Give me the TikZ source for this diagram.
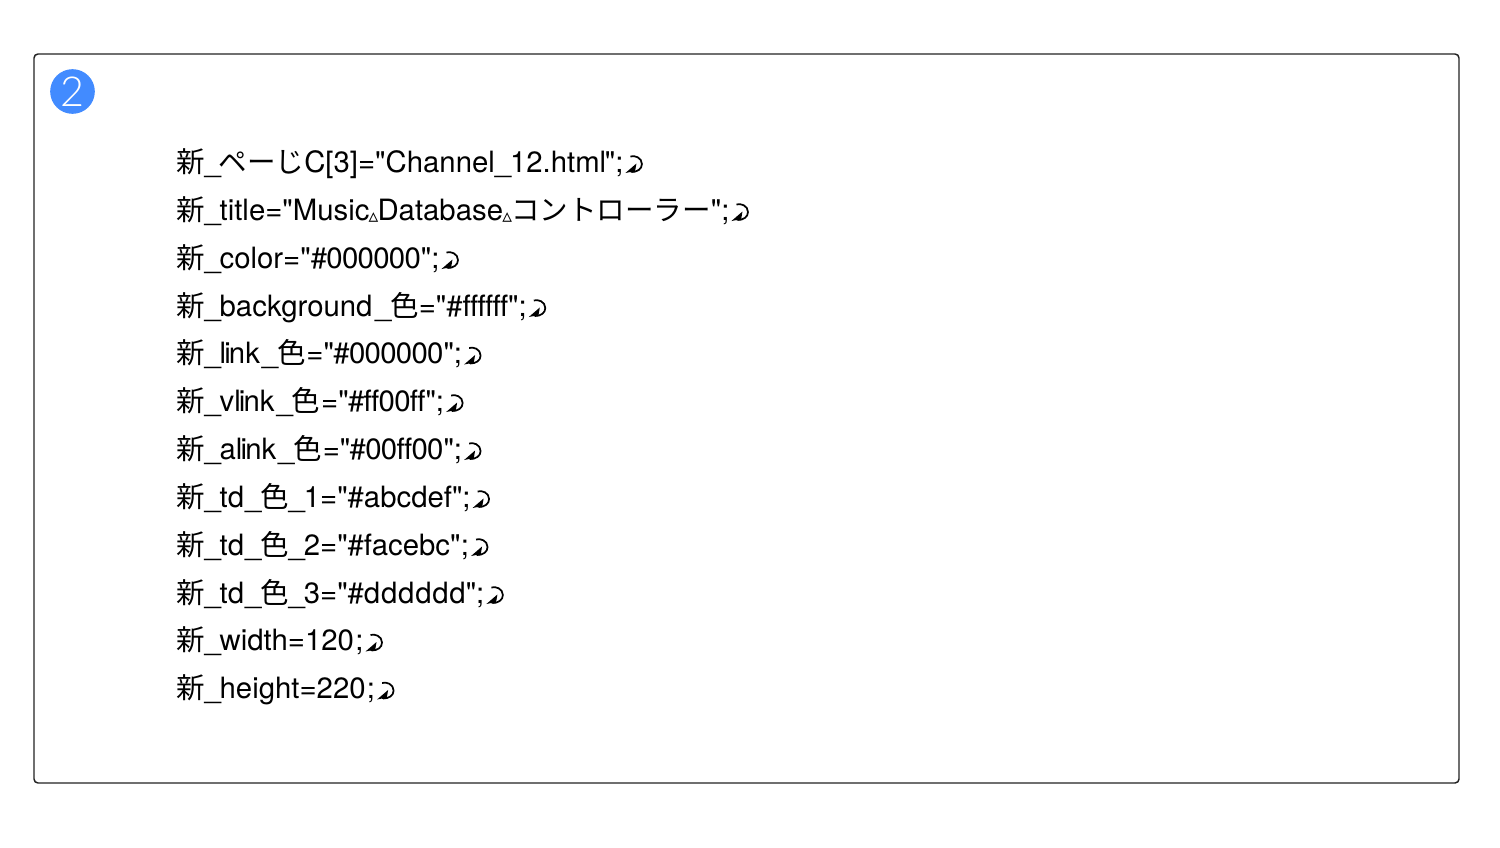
\documentclass[tikz,border=0pt]{standalone}
\usepackage{fontspec}
\newfontfamily\latf{TeX Gyre Heros}
\newfontfamily\cjkf{Noto Sans CJK JP}
\newfontfamily\symf{DejaVu Sans}
\newfontfamily\numf{Lato Light}
\newcommand{\jp}[1]{{\cjkf\fontsize{21.4pt}{24pt}\selectfont #1}}
\newcommand{\spc}{{\symf\bfseries\fontsize{14.5pt}{10pt}\selectfont\kern-0.6pt\raisebox{-1.7pt}{▵}\kern-0.6pt}}
\newcommand{\us}{\_\kern-0.9pt}
\newcommand{\tk}{\kern-1.4pt}
\newcommand{\wk}{\kern0.6pt}
\newcommand{\nk}{\kern-0.5pt}
\definecolor{framec}{HTML}{222222}
\definecolor{badge}{HTML}{428BFF}
\tikzset{
  x=0.75pt,y=-0.75pt,
  frame/.style={draw=framec,line width=1.1pt,rounded corners=3pt},
  codeline/.style={anchor=base west,inner sep=0pt,outer sep=0pt,font=\latf\fontsize{22pt}{24pt}\selectfont},
  badgec/.style={circle,fill=badge,minimum size=33.5pt,inner sep=0pt,text=white,font=\fontsize{31pt}{31pt}\numf},
  retmark/.pic={
    \fill[black] (0,0) -- (11,-9.5) -- (9.5,-0.6) -- (4,-0.8) -- cycle;
    \draw[black,line width=1.3pt] (5,-16.5) .. controls (9,-18) and (16.5,-15.5) .. (16.5,-9)
      .. controls (16.5,-4) and (12,-1) .. (6,-1);
  }
}
\begin{document}
\begin{tikzpicture}
\useasboundingbox (0,0) rectangle (1500,847);
\draw[frame] (34,54) rectangle (1459,783);
\node[badgec] (b) at (72.5,91.5) {2};
\node[codeline] (l1) at (176,172) {\jp{新}\us\kern-0.7pt\jp{ペーじ}C[3]="Channel\us 12.html\kern-1pt";};
\node[codeline] (l2) at (176,220) {\jp{新}\us title="Music\spc Database\spc\jp{コントローラー}";};
\node[codeline] (l3) at (176,268) {\jp{新}\us color="\#\nk 0\nk 0\nk 0\nk 0\nk 0\nk 0";};
\node[codeline] (l4) at (176,316) {\jp{新}\us background\kern2pt\us\jp{色}="\#f\nk f\nk f\nk f\nk f\nk f";};
\node[codeline] (l5) at (176,363.5) {\jp{新}\us l\tk i\tk nk\kern1.5pt\us\jp{色}\kern0.7pt="\nk\#\nk 0\nk 0\nk 0\nk 0\nk 0\nk 0";};
\node[codeline] (l6) at (176,411) {\jp{新}\us vl\tk i\tk nk\kern1.5pt\us\jp{色}\kern0.7pt="\nk\#\nk f\nk f\nk 0\nk 0\nk f\nk f";};
\node[codeline] (l7) at (176,459) {\jp{新}\us al\tk i\tk nk\kern1.5pt\us\jp{色}\kern0.7pt="\nk\#\nk 0\nk 0\nk f\nk f\nk 0\nk 0";};
\node[codeline] (l8) at (176,507) {\jp{新}\us td\kern0.7pt\us\jp{色}\us 1="\#abcdef";};
\node[codeline] (l9) at (176,555) {\jp{新}\us td\kern0.7pt\us\jp{色}\us 2="\#facebc"\kern0.3pt;};
\node[codeline] (l10) at (176,603) {\jp{新}\us td\kern0.7pt\us\jp{色}\us 3="\#d\wk d\wk d\wk d\wk d\wk d";};
\node[codeline] (l11) at (176,650.5) {\jp{新}\us width=120\kern1pt;};
\node[codeline] (l12) at (176,698.5) {\jp{新}\us height=220\kern1pt;};
\foreach \n in {1,...,12} \path (l\n.base east) ++(2,1) pic {retmark};
\end{tikzpicture}
\end{document}
